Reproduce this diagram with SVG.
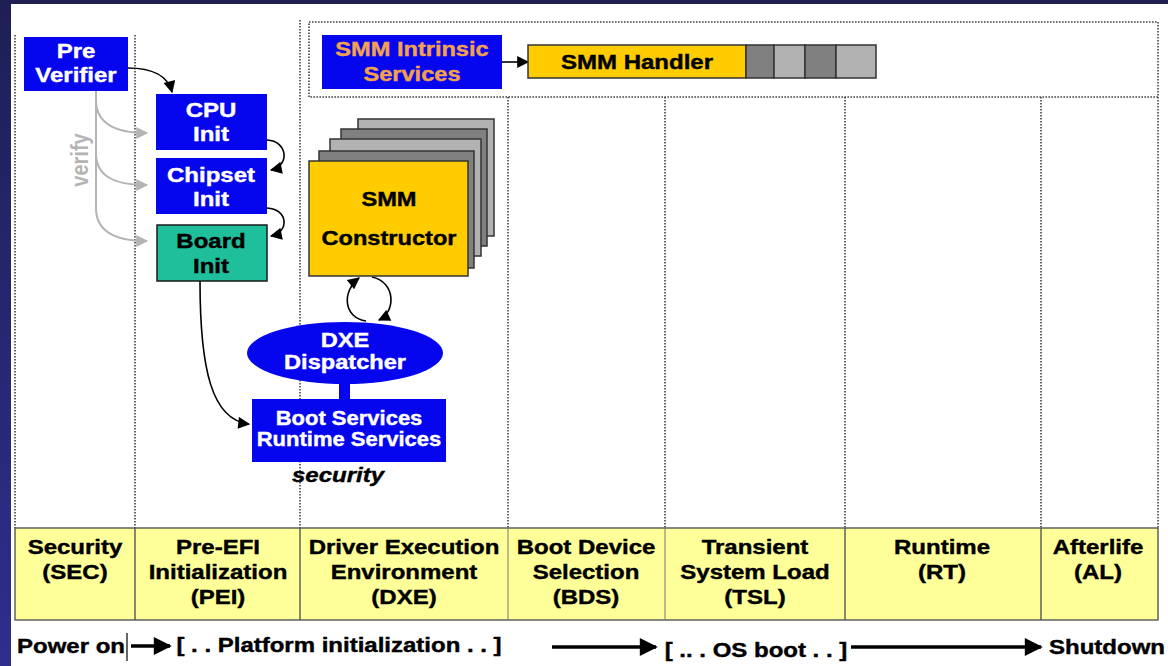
<svg xmlns="http://www.w3.org/2000/svg" width="1168" height="666" viewBox="0 0 1168 666">
  <defs>
    <linearGradient id="sideBand" x1="0" y1="0" x2="0" y2="1">
      <stop offset="0" stop-color="#1f1f55"/>
      <stop offset="1" stop-color="#2e2e8e"/>
    </linearGradient>
    <marker id="ah" viewBox="0 0 10 10" refX="9" refY="5" markerWidth="14" markerHeight="12" markerUnits="userSpaceOnUse" orient="auto">
      <path d="M0,0 L10,5 L0,10 z" fill="#000"/>
    </marker>
    <marker id="ahGray" viewBox="0 0 10 10" refX="9" refY="5" markerWidth="14" markerHeight="12" markerUnits="userSpaceOnUse" orient="auto">
      <path d="M0,0 L10,5 L0,10 z" fill="#b4b4b4"/>
    </marker>
    <marker id="ahBig" viewBox="0 0 10 10" refX="9" refY="5" markerWidth="22" markerHeight="18" markerUnits="userSpaceOnUse" orient="auto">
      <path d="M0,0 L10,5 L0,10 z" fill="#000"/>
    </marker>
    <style>
      .t { font-family: "Liberation Sans", Arial, sans-serif; font-weight: bold; font-size: 20px; text-anchor: middle; stroke-width: 0.4; }
      .w { fill: #ffffff; stroke: #ffffff; }
      .k { fill: #000000; stroke: #000000; }
      .or { fill: #f2a24e; stroke: #f2a24e; }
      .blue { fill: #0505ee; }
      .dot { stroke: #444; stroke-width: 1.6; stroke-dasharray: 1.6 1.4; fill: none; }
      .conn { stroke: #000; stroke-width: 1.6; fill: none; }
      .gray { stroke: #b4b4b4; stroke-width: 2; fill: none; }
      .thick { stroke: #000; stroke-width: 3.5; fill: none; }
      .cell { fill: #ffff99; stroke: #555; stroke-width: 1.4; }
    </style>
  </defs>

  <!-- frame -->
  <rect x="0" y="0" width="1168" height="666" fill="#1f1f50"/>
  <rect x="0" y="0" width="11" height="666" fill="url(#sideBand)"/>
  <rect x="11" y="4" width="1157" height="662" fill="#ffffff"/>

  <!-- phase column guides -->
  <g id="guides">
    <line class="dot" x1="15" y1="35" x2="15" y2="528"/>
    <line class="dot" x1="135" y1="35" x2="135" y2="528"/>
    <line class="dot" x1="300" y1="20" x2="300" y2="528"/>
    <line class="dot" x1="508" y1="97" x2="508" y2="528"/>
    <line class="dot" x1="665" y1="97" x2="665" y2="528"/>
    <line class="dot" x1="845" y1="97" x2="845" y2="528"/>
    <line class="dot" x1="1041" y1="97" x2="1041" y2="528"/>
    <line class="dot" x1="1158" y1="97" x2="1158" y2="528"/>
    <rect class="dot" x="309" y="22" width="849" height="75"/>
  </g>

  <!-- connectors -->
  <g id="connectors">
    <path class="conn" d="M128,68 C152,68 168,76 172,92" marker-end="url(#ah)"/>
    <path class="gray" d="M96,91 V208"/>
    <path class="gray" d="M96,100 C96,122 112,133 147,133" marker-end="url(#ahGray)"/>
    <path class="gray" d="M96,153 C96,175 112,185 147,185" marker-end="url(#ahGray)"/>
    <path class="gray" d="M96,208 C96,230 112,241 147,241" marker-end="url(#ahGray)"/>
    <path class="conn" d="M267,140 C288,141 290,166 271,170" marker-end="url(#ah)"/>
    <path class="conn" d="M267,208 C288,209 290,232 271,236" marker-end="url(#ah)"/>
    <path class="conn" d="M200,281 C200,370 212,420 249,424" marker-end="url(#ah)"/>
    <path class="conn" d="M366,321 C344,318 341,292 359,278" marker-end="url(#ah)"/>
    <path class="conn" d="M372,277 C396,282 396,312 379,320" marker-end="url(#ah)"/>
    <path class="conn" d="M502,62 H528" marker-end="url(#ah)"/>
  </g>

  <!-- PEI modules -->
  <g id="pre-verifier">
    <rect class="blue" x="24" y="37" width="104" height="54"/>
    <text class="t w" transform="translate(76 0) scale(1.2 1)"><tspan x="0" y="58">Pre</tspan><tspan x="0" y="82">Verifier</tspan></text>
  </g>
  <g id="verify-label">
    <text class="t" fill="#b4b4b4" font-size="23" transform="translate(88 160) rotate(-90) scale(1 1.15)">verify</text>
  </g>
  <g id="cpu-init">
    <rect class="blue" x="156" y="94" width="111" height="56"/>
    <text class="t w" transform="translate(211 0) scale(1.2 1)"><tspan x="0" y="117">CPU</tspan><tspan x="0" y="141">Init</tspan></text>
  </g>
  <g id="chipset-init">
    <rect class="blue" x="156" y="158" width="111" height="56"/>
    <text class="t w" transform="translate(211 0) scale(1.2 1)"><tspan x="0" y="182">Chipset</tspan><tspan x="0" y="206">Init</tspan></text>
  </g>
  <g id="board-init">
    <rect x="157" y="225" width="110" height="56" fill="#1fbf9c" stroke="#1a1a1a" stroke-width="1.5"/>
    <text class="t k" transform="translate(211 0) scale(1.2 1)"><tspan x="0" y="248">Board</tspan><tspan x="0" y="273">Init</tspan></text>
  </g>

  <!-- SMM -->
  <g id="smm-intrinsic">
    <rect class="blue" x="322" y="35" width="180" height="54"/>
    <text class="t or" transform="translate(412 0) scale(1.18 1)"><tspan x="0" y="56">SMM Intrinsic</tspan><tspan x="0" y="81">Services</tspan></text>
  </g>
  <g id="smm-handler">
    <rect x="528" y="45" width="218" height="33" fill="#ffcc00" stroke="#333" stroke-width="1.5"/>
    <rect x="746" y="45" width="28" height="33" fill="#808080" stroke="#333" stroke-width="1.5"/>
    <rect x="774" y="45" width="31" height="33" fill="#b2b2b2" stroke="#333" stroke-width="1.5"/>
    <rect x="805" y="45" width="31" height="33" fill="#808080" stroke="#333" stroke-width="1.5"/>
    <rect x="836" y="45" width="40" height="33" fill="#b2b2b2" stroke="#333" stroke-width="1.5"/>
    <text class="t k" transform="translate(637 0) scale(1.2 1)" x="0" y="69">SMM Handler</text>
  </g>
  <g id="smm-constructor">
    <rect x="358" y="119" width="136" height="117" fill="#b2b2b2" stroke="#333" stroke-width="1.5"/>
    <rect x="341" y="129" width="146" height="117" fill="#808080" stroke="#333" stroke-width="1.5"/>
    <rect x="330" y="139" width="151" height="117" fill="#b2b2b2" stroke="#333" stroke-width="1.5"/>
    <rect x="319" y="151" width="155" height="117" fill="#808080" stroke="#333" stroke-width="1.5"/>
    <rect x="309" y="161" width="159" height="115" fill="#ffcc00" stroke="#333" stroke-width="1.5"/>
    <text class="t k" font-size="21" transform="translate(389 0) scale(1.18 1)"><tspan x="0" y="206">SMM</tspan><tspan x="0" y="245">Constructor</tspan></text>
  </g>

  <!-- DXE core -->
  <g id="dxe-dispatcher">
    <rect class="blue" x="339" y="380" width="11" height="22"/>
    <ellipse class="blue" cx="345" cy="353" rx="98" ry="31"/>
    <text class="t w" font-size="17.5" transform="translate(345 0) scale(1.18 1)"><tspan x="0" y="347">DXE</tspan><tspan x="0" y="369">Dispatcher</tspan></text>
  </g>
  <g id="boot-services">
    <rect class="blue" x="252" y="399" width="194" height="63"/>
    <text class="t w" font-size="17.5" transform="translate(349 0) scale(1.1 1)"><tspan x="0" y="425">Boot Services</tspan><tspan x="0" y="446">Runtime Services</tspan></text>
  </g>
  <g id="security-label">
    <text class="t k" font-style="italic" transform="translate(338 0) scale(1.2 1)" x="0" y="482">security</text>
  </g>

  <!-- phase table -->
  <g id="phase-table">
    <rect class="cell" x="15" y="528" width="1143" height="92"/>
    <line x1="135" y1="528" x2="135" y2="620" stroke="#555" stroke-width="1.4"/>
    <line x1="300" y1="528" x2="300" y2="620" stroke="#555" stroke-width="1.4"/>
    <line x1="508" y1="528" x2="508" y2="620" stroke="#777" stroke-width="1"/>
    <line x1="665" y1="528" x2="665" y2="620" stroke="#777" stroke-width="1"/>
    <line x1="845" y1="528" x2="845" y2="620" stroke="#555" stroke-width="1.4"/>
    <line x1="1041" y1="528" x2="1041" y2="620" stroke="#555" stroke-width="1.4"/>
  </g>
  <g id="phase-sec">
    <text class="t k" transform="translate(75 0) scale(1.2 1)"><tspan x="0" y="554">Security</tspan><tspan x="0" y="579">(SEC)</tspan></text>
  </g>
  <g id="phase-pei">
    <text class="t k" transform="translate(218 0) scale(1.2 1)"><tspan x="0" y="554">Pre-EFI</tspan><tspan x="0" y="579">Initialization</tspan><tspan x="0" y="604">(PEI)</tspan></text>
  </g>
  <g id="phase-dxe">
    <text class="t k" transform="translate(404 0) scale(1.2 1)"><tspan x="0" y="554">Driver Execution</tspan><tspan x="0" y="579">Environment</tspan><tspan x="0" y="604">(DXE)</tspan></text>
  </g>
  <g id="phase-bds">
    <text class="t k" transform="translate(586 0) scale(1.2 1)"><tspan x="0" y="554">Boot Device</tspan><tspan x="0" y="579">Selection</tspan><tspan x="0" y="604">(BDS)</tspan></text>
  </g>
  <g id="phase-tsl">
    <text class="t k" transform="translate(755 0) scale(1.2 1)"><tspan x="0" y="554">Transient</tspan><tspan x="0" y="579">System Load</tspan><tspan x="0" y="604">(TSL)</tspan></text>
  </g>
  <g id="phase-rt">
    <text class="t k" transform="translate(942 0) scale(1.2 1)"><tspan x="0" y="554">Runtime</tspan><tspan x="0" y="579">(RT)</tspan></text>
  </g>
  <g id="phase-al">
    <text class="t k" transform="translate(1098 0) scale(1.2 1)"><tspan x="0" y="554">Afterlife</tspan><tspan x="0" y="579">(AL)</tspan></text>
  </g>

  <!-- timeline -->
  <g id="timeline">
    <text class="t k" transform="translate(71 0) scale(1.2 1)" x="0" y="653">Power on</text>
    <line x1="127" y1="633" x2="127" y2="661" stroke="#000" stroke-width="1.2"/>
    <path class="thick" d="M131,646 H170" marker-end="url(#ahBig)"/>
    <text class="t k" transform="translate(339 0) scale(1.2 1)" x="0" y="652">[ . . Platform initialization . . ]</text>
    <path class="thick" d="M552,647 H656" marker-end="url(#ahBig)"/>
    <text class="t k" transform="translate(756 0) scale(1.2 1)" x="0" y="657">[ .. . OS boot . . ]</text>
    <path class="thick" d="M851,647 H1041" marker-end="url(#ahBig)"/>
    <text class="t k" transform="translate(1107 0) scale(1.2 1)" x="0" y="654">Shutdown</text>
  </g>
</svg>
